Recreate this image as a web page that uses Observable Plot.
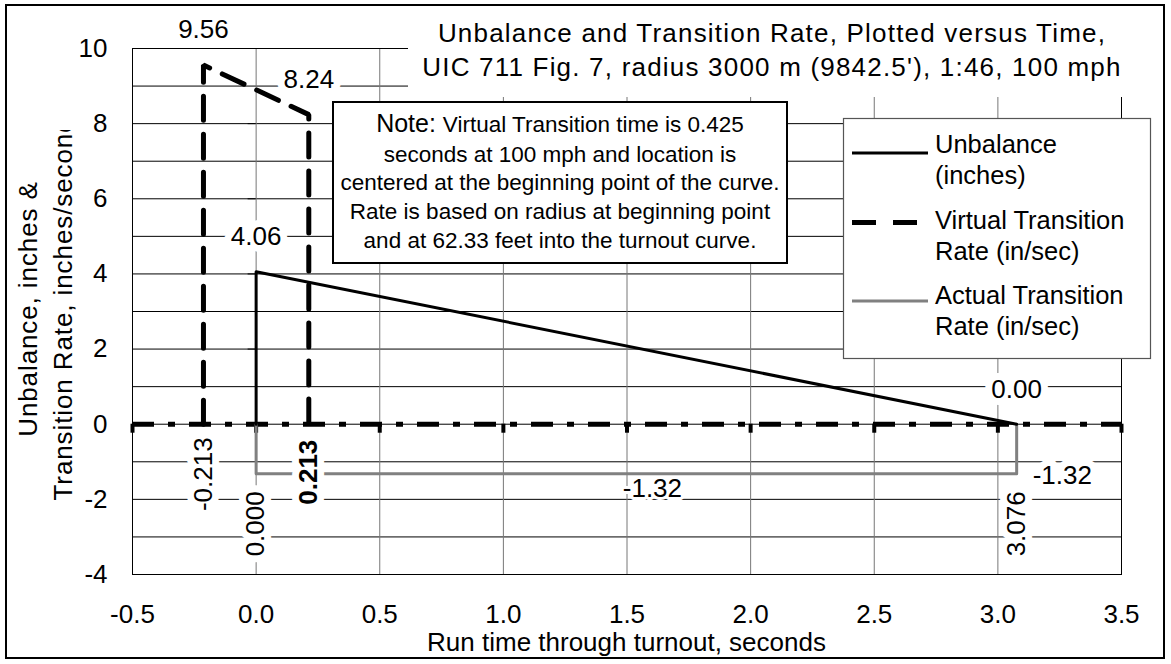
<!DOCTYPE html>
<html><head><meta charset="utf-8">
<script src="https://cdn.jsdelivr.net/npm/d3@7"></script>
<script src="https://cdn.jsdelivr.net/npm/@observablehq/plot@0.6"></script>
<style>
body{margin:0;background:#fff;}
#wrap{position:relative;width:1171px;height:664px;overflow:hidden;background:#fff;}
#wrap svg{position:absolute;left:0;top:0;}
</style></head><body><div id="wrap"></div>
<script>
// ---- data ----
const xTicks = [-0.5, 0, 0.5, 1, 1.5, 2, 2.5, 3, 3.5];
const yTicks = [-4, -2, 0, 2, 4, 6, 8, 10];
const yGrid = [-4, -3, -2, -1, 0, 1, 2, 3, 4, 5, 6, 7, 8, 9, 10];

const unbalanceX = [0, 0, 3.076];
const unbalanceY = [0, 4.06, 0];
const virtualX = [-0.213, -0.213, 0.213, 0.213];
const virtualY = [0, 9.56, 8.24, 0];
const actualX = [0, 0, 3.076, 3.076];
const actualY = [0, -1.32, -1.32, 0];

const topLabelText = ["9.56", "8.24", "4.06", "0.00"];
const topLabelX = [-0.213, 0.213, 0, 3.076];
const topLabelY = [9.56, 8.24, 4.06, 0];
const endRateLabelText = ["-1.32"];
const endRateLabelX = [3.076];
const endRateLabelY = [-1.32];
const midRateLabelText = ["-1.32"];
const midRateLabelX = [1.538];
const midRateLabelY = [-1.32];
const timeLabelText = ["-0.213", "0.000", "3.076"];
const timeLabelX = [-0.213, 0, 3.076];
const timeLabelY = [0, -1.32, -1.32];
const boldLabelText = ["0.213"];
const boldLabelX = [0.213];
const boldLabelY = [0];

const titleLines = ["Unbalance and Transition Rate, Plotted versus Time,", "UIC 711 Fig. 7, radius 3000 m (9842.5'), 1:46, 100 mph"];
const yLabelLines = ["Unbalance, inches &", "Transition Rate, inches/second"];
const xLabel = "Run time through turnout, seconds";
const legendNames = [["Unbalance", "(inches)"], ["Virtual Transition", "Rate (in/sec)"], ["Actual Transition", "Rate (in/sec)"]];
const noteLead = "Note:";
const noteLines = ["Virtual Transition time is 0.425", "seconds at 100 mph and location is", "centered at the beginning point of the curve.", "Rate is based on radius at beginning point", "and at 62.33 feet into the turnout curve."];

// ---- build tables ----
const pts = (xs, ys) => xs.map((x, i) => ({x, y: ys[i]}));
const lab = (ts, xs, ys) => ts.map((t, i) => ({t, x: xs[i], y: ys[i]}));
const unbalance = pts(unbalanceX, unbalanceY);
const virtual = pts(virtualX, virtualY);
const actual = pts(actualX, actualY);

const FONT = "Arial, 'Liberation Sans', sans-serif";
const W = 1171, H = 664;
const halo = {stroke: "#fff", strokeWidth: 14, paintOrder: "stroke", fill: "#000"};

const chart = Plot.plot({
  width: W, height: H,
  marginLeft: 132, marginTop: 48, marginRight: 50, marginBottom: 90,
  x: {domain: [-0.5, 3.5]},
  y: {domain: [-4, 10]},
  style: {fontFamily: FONT, fontSize: "26px", background: "#fff", color: "#000"},
  marks: [
    Plot.ruleY(yGrid, {stroke: "#000", strokeWidth: 1}),
    Plot.ruleX(xTicks, {stroke: "#777", strokeWidth: 1}),
    Plot.frame({stroke: "#000", strokeWidth: 1}),
    Plot.axisX(xTicks, {tickSize: 0, tickPadding: 30, tickFormat: d => d.toFixed(1), label: null, fontSize: 26}),
    Plot.axisY(yTicks, {tickSize: 0, tickPadding: 25, tickFormat: d => String(d), label: null, fontSize: 26}),
    Plot.ruleY([0], {stroke: "#000", strokeWidth: 5, strokeDasharray: "22,14,7,14"}),
    Plot.ruleX(xTicks, {y1: 0, y2: 0, insetTop: 0, insetBottom: -9, stroke: "#000", strokeWidth: 4}),
    Plot.ruleY(yTicks, {x1: 0, x2: 0, insetLeft: -8, insetRight: 0, stroke: "#000", strokeWidth: 1}),
    Plot.line(actual, {x: "x", y: "y", stroke: "#808080", strokeWidth: 3}),
    Plot.line(unbalance, {x: "x", y: "y", stroke: "#000", strokeWidth: 3}),
    Plot.line(virtual, {x: "x", y: "y", stroke: "#000", strokeWidth: 5, strokeDasharray: "24,14", strokeLinejoin: "miter"}),
    Plot.text(lab(topLabelText, topLabelX, topLabelY), {x: "x", y: "y", text: "t", dy: -35, fontSize: 26, ...halo}),
    Plot.text(lab(endRateLabelText, endRateLabelX, endRateLabelY), {x: "x", y: "y", text: "t", dx: 16, dy: 2, textAnchor: "start", fontSize: 26, ...halo}),
    Plot.text(lab(midRateLabelText, midRateLabelX, midRateLabelY), {x: "x", y: "y", text: "t", dx: 16, dy: 15, fontSize: 26, ...halo, strokeWidth: 6}),
    Plot.text(lab(timeLabelText, timeLabelX, timeLabelY), {x: "x", y: "y", text: "t", dy: 50, rotate: -90, fontSize: 26, ...halo}),
    Plot.text(lab(boldLabelText, boldLabelX, boldLabelY), {x: "x", y: "y", text: "t", dy: 48, rotate: -90, fontSize: 26, fontWeight: "bold", ...halo})
  ]
});

const wrap = document.getElementById("wrap");
wrap.appendChild(chart);

// ---- overlay: title, axis titles, note, legend, border ----
const ov = d3.create("svg").attr("width", W).attr("height", H)
  .style("font-family", FONT).style("pointer-events", "none");

ov.append("rect").attr("x", 6).attr("y", 5).attr("width", 1158).attr("height", 653)
  .attr("fill", "none").attr("stroke", "#000").attr("stroke-width", 2);

// title
ov.append("rect").attr("x", 408).attr("y", 8).attr("width", 748).attr("height", 89).attr("fill", "#fff");
titleLines.forEach((t, i) => {
  ov.append("text").attr("x", 772).attr("y", 42 + i * 34).attr("text-anchor", "middle")
    .attr("font-size", 26).attr("letter-spacing", "1.2px").text(t);
});

// y label (second line clipped at top, as in the original)
const clip = ov.append("clipPath").attr("id", "ylabclip");
clip.append("rect").attr("x", 0).attr("y", 130).attr("width", 120).attr("height", 500);
const yl = ov.append("g").attr("clip-path", "url(#ylabclip)");
yLabelLines.forEach((t, i) => {
  const bx = 37 + i * 35, cy = 309;
  yl.append("text").attr("x", bx).attr("y", cy).attr("text-anchor", "middle")
    .attr("transform", `rotate(-90,${bx},${cy})`).attr("font-size", 26)
    .attr("letter-spacing", "0.9px").text(t);
});

// x label
ov.append("text").attr("x", 626.5).attr("y", 651).attr("text-anchor", "middle")
  .attr("font-size", 26).text(xLabel);

// note
ov.append("rect").attr("x", 333).attr("y", 102).attr("width", 454).attr("height", 161)
  .attr("fill", "#fff").attr("stroke", "#000").attr("stroke-width", 2);
const nb = [132, 162, 190, 219, 248];
noteLines.forEach((t, i) => {
  const tx = ov.append("text").attr("x", 560).attr("y", nb[i]).attr("text-anchor", "middle").attr("font-size", 22.5);
  if (i === 0) {
    tx.append("tspan").attr("font-size", 25).text(noteLead + " ");
    tx.append("tspan").text(t);
  } else tx.text(t);
});

// legend
ov.append("rect").attr("x", 843.5).attr("y", 118.5).attr("width", 307).attr("height", 240)
  .attr("fill", "#fff").attr("stroke", "#555").attr("stroke-width", 1.2);
const symY = [153, 222.5, 301];
const symStyle = [
  {stroke: "#000", w: 3, dash: null},
  {stroke: "#000", w: 5, dash: "24,17"},
  {stroke: "#808080", w: 3, dash: null}
];
const txtY = [[153, 184], [229, 260], [304, 335]];
legendNames.forEach((names, i) => {
  const s = symStyle[i];
  const ln = ov.append("line").attr("x1", 852).attr("x2", 928).attr("y1", symY[i]).attr("y2", symY[i])
    .attr("stroke", s.stroke).attr("stroke-width", s.w);
  if (s.dash) ln.attr("stroke-dasharray", s.dash);
  names.forEach((n, j) => {
    ov.append("text").attr("x", 935).attr("y", txtY[i][j]).attr("font-size", 25.5).text(n);
  });
});

wrap.appendChild(ov.node());
</script></body></html>
